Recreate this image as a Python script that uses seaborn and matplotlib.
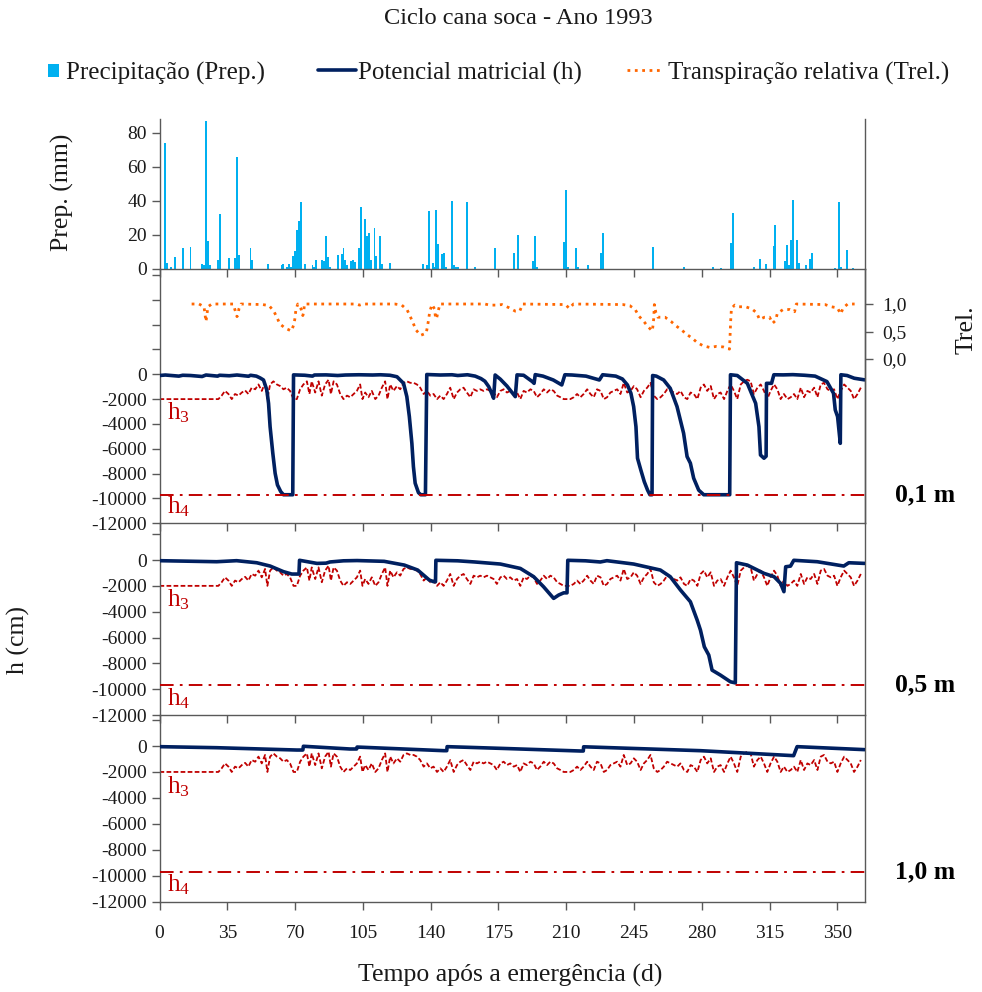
import matplotlib
matplotlib.use("Agg")
import matplotlib.pyplot as plt
import seaborn as sns

sns.set_theme(style="white")
plt.rcParams["font.family"] = ["Liberation Serif", "DejaVu Serif"]
plt.rcParams["mathtext.fontset"] = "custom"
plt.rcParams["mathtext.rm"] = "Liberation Serif"
plt.rcParams["mathtext.it"] = "Liberation Serif:italic"
plt.rcParams["axes.unicode_minus"] = False

# ---------------- data ----------------
# daily rainfall (mm), days after emergence
rain_day = [3, 4, 6, 8, 12, 16, 22, 23, 24, 25, 26, 30, 31, 36, 39, 40, 41, 47, 48, 56,
            63, 64, 66, 67, 68, 69, 70, 71, 72, 73, 75, 79, 80, 81, 84, 85, 86, 87, 88, 92,
            94, 95, 96, 97, 99, 100, 101, 103, 104, 106, 107, 108, 109, 111, 112, 114, 115, 119,
            136, 138, 139, 141, 142, 143, 144, 146, 147, 148, 151, 152, 153, 154, 159, 163, 173,
            183, 185, 193, 194, 195, 209, 210, 211, 215, 216, 221, 228, 229, 255, 271, 286, 290,
            295, 296, 307, 310, 313, 317, 318, 323, 324, 325, 326, 327, 329, 330, 334, 336, 337,
            349, 351, 352, 355, 358]
rain_mm = [74, 3.5, 1, 7, 12, 12.5, 3, 2, 87, 16.5, 2, 5.4, 32, 6.5, 6.5, 66, 8, 12, 5, 2.5,
           2, 3, 1, 3, 1, 7.3, 10.6, 23, 28, 39, 2.5, 2, 1, 5.4, 5, 4.5, 19, 7, 1, 8.3,
           8.5, 12, 5.4, 2, 4.5, 5.4, 4, 12, 36.6, 29, 19.4, 21, 5, 24, 7.6, 19.4, 3, 3.3,
           2.5, 2, 34, 3.3, 1, 34.6, 14.5, 8.7, 9, 1, 40, 2, 1, 1, 39, 1, 12,
           9, 20, 4.5, 19, 1, 16, 46.5, 1, 12, 1, 2, 9, 21, 12.5, 1, 1, 0.5,
           15, 33, 1, 6, 3, 13.5, 26, 4.5, 14, 2, 17, 40.6, 17, 3.5, 2, 5.5, 9.4,
           0.5, 39, 1, 11.3, 0.5]

# relative transpiration (-)
trel_day = [16.6, 20.4, 23.0, 23.5, 24.0, 24.5, 25.0, 27.0, 38.0, 39.0, 40.0, 40.5, 41.0, 42.1,
            53.3, 56.6, 59.0, 60.6, 62.1, 64.9, 68.1, 69.5, 70.0, 70.4, 71.4, 73.1, 74.0, 74.5,
            74.8, 101.5, 103.3, 105.0, 121.5, 125.1, 127.9, 129.5, 131.0, 132.4, 134.8, 137.7,
            138.4, 139.0, 139.5, 140.7, 142.0, 142.4, 143.0, 143.8, 144.8, 168.0, 170.5, 173.7,
            176.8, 180.6, 183.7, 186.0, 187.5, 209.6, 211.6, 213.7, 239.2, 242.8, 245.6, 247.5,
            249.7, 251.9, 254.4, 254.9, 255.2, 255.5, 256.3, 257.3, 261.0, 264.2, 266.8, 269.5,
            272.1, 275.0, 277.6, 280.7, 284.2, 287.6, 291.0, 294.3, 294.6, 294.9, 295.3, 297.0,
            299.0, 302.6, 305.9, 308.3, 309.8, 312.4, 315.0, 316.5, 318.1, 319.0, 322.0, 325.5,
            327.9, 328.8, 343.6, 346.9, 350.0, 351.7, 353.0, 355.3, 358.9]
trel_val = [1.0, 1.0, 0.95, 0.81, 0.68, 0.81, 0.95, 1.0, 1.0, 0.89, 0.77, 0.80, 0.91, 1.0,
            0.99, 0.97, 0.87, 0.76, 0.64, 0.56, 0.51, 0.64, 0.76, 0.89, 1.0, 0.91, 0.79, 0.86,
            1.0, 1.0, 0.98, 1.0, 1.0, 0.98, 0.89, 0.77, 0.65, 0.53, 0.43, 0.47,
            0.60, 0.73, 0.86, 0.99, 0.91, 0.79, 0.73, 0.86, 1.0, 1.0, 0.98, 0.98,
            0.99, 0.93, 0.87, 0.87, 1.0, 0.99, 0.92, 1.0, 0.99, 0.97, 0.90, 0.78,
            0.70, 0.60, 0.51, 0.63, 0.75, 0.99, 0.84, 0.76, 0.76, 0.68, 0.60, 0.53,
            0.45, 0.38, 0.30, 0.24, 0.21, 0.23, 0.22, 0.18, 0.43, 0.69, 0.92, 0.98,
            0.95, 0.95, 0.91, 0.84, 0.72, 0.76, 0.76, 0.65, 0.70, 0.83, 0.90, 0.90,
            0.86, 1.0, 0.99, 0.95, 0.93, 0.82, 0.93, 1.0, 1.0]

# pressure head limits of the water uptake reduction function (cm)
h3_day = [0, 30.4, 32.1, 33.8, 35.6, 37.3, 39.0, 40.8, 42.5, 44.2, 45.9, 47.6, 49.4, 51.1, 52.8,
          54.5, 55.7, 57.1, 58.8, 60.6, 62.3, 64.0, 65.7, 67.4, 69.2, 70.9, 72.6, 74.3, 76.1,
          77.4, 78.6, 80.4, 82.1, 83.8, 85.5, 87.3, 88.5, 89.9, 91.6, 93.3, 95.0, 96.8, 98.5,
          100.2, 101.9, 103.6, 104.8, 106.2, 107.9, 109.6, 111.4, 113.1, 114.8, 116.5, 117.7,
          119.1, 120.8, 122.6, 124.3, 126.0, 127.7, 129.5, 131.2, 132.9, 134.6, 136.4, 138.1,
          139.8, 141.5, 143.3, 145.0, 146.7, 148.4, 150.1, 151.9, 153.6, 155.3, 157.0, 158.7,
          160.5, 162.2, 163.9, 165.6, 167.3, 169.1, 170.8, 172.5, 174.2, 176.0, 177.7, 179.4,
          181.1, 182.9, 184.6, 186.3, 188.0, 189.7, 191.5, 193.2, 194.9, 196.6, 198.4, 200.1,
          201.8, 203.5, 205.3, 207.0, 208.7, 210.4, 212.1, 213.9, 215.6, 217.3, 219.0, 220.8,
          222.5, 224.2, 225.9, 227.7, 229.4, 231.1, 232.8, 234.6, 236.3, 238.0, 239.7, 241.5,
          243.2, 244.9, 246.6, 248.4, 250.1, 251.8, 253.5, 255.2, 257.0, 258.7, 260.4, 262.1,
          263.9, 265.6, 267.3, 269.0, 270.8, 272.5, 274.2, 275.9, 277.7, 279.4, 281.1, 282.8,
          284.6, 286.3, 288.0, 289.7, 291.5, 293.2, 294.9, 296.6, 298.3, 300.1, 301.8, 303.5,
          305.2, 306.9, 308.7, 310.4, 312.1, 313.8, 315.5, 317.3, 319.0, 320.7, 322.4, 324.2,
          325.9, 327.6, 329.3, 331.1, 332.8, 334.5, 336.2, 338.0, 339.7, 341.4, 343.1, 344.9,
          346.6, 348.3, 350.0, 351.7, 353.5, 355.2, 356.9, 358.6, 360.4, 362.1]
h3_val = [-2000, -2000, -1720, -1340, -1590, -2000, -1590, -1720, -1470, -1300, -1590, -1080, -1210, -820, -1340,
          -690, -2000, -820, -570, -820, -950, -1210, -1080, -1340, -2000, -2000, -1210, -820, -570,
          -1590, -570, -1470, -570, -1720, -820, -440, -1590, -570, -820, -1590, -2000, -1720, -1850,
          -1590, -1340, -820, -2000, -1470, -1850, -1340, -2000, -1720, -1080, -570, -2000,
          -820, -1340, -950, -1210, -690, -570, -690, -690, -820, -1080, -1590, -1340,
          -1720, -1590, -2000, -1720, -2000, -1590, -1080, -2000, -1470, -1210, -1080, -1470,
          -1850, -1210, -1340, -1210, -1340, -1210, -1340, -1470, -1850, -1340, -1210, -1470,
          -1340, -1590, -1470, -2000, -1340, -1470, -1210, -1340, -1850, -1590, -1210, -1470,
          -1210, -1340, -1720, -1850, -2000, -2000, -2000, -1850, -1590, -1850, -1590, -1210,
          -1590, -1850, -1210, -1340, -2000, -1850, -1470, -1340, -1210, -1590, -690, -1470,
          -1340, -950, -1210, -1850, -1340, -1080, -690, -1720, -2000, -1850, -1590, -1210,
          -1340, -1470, -1590, -1340, -1850, -2000, -1470, -1590, -2000, -1080, -820, -1340,
          -950, -2000, -1590, -1470, -2000, -1340, -820, -1340, -2000, -820, -570, -440,
          -570, -1590, -1080, -820, -1340, -2000, -1340, -820, -1210, -2000, -1590, -2000,
          -1850, -1590, -2000, -1080, -1850, -1340, -1470, -1080, -1850, -820, -690, -1210,
          -1340, -1210, -2000, -1340, -820, -1080, -1340, -2000, -1590, -1080]
H4 = -9700

# matric potential (cm) at 0.1 m, 0.5 m and 1.0 m depth
h10_day = [0, 3, 10, 12, 16, 22, 24, 30, 31, 36, 40, 46, 47, 50, 52, 53.7, 55.4, 56.3, 57.1, 58.5,
           59.7, 60.9, 62.6, 64, 68.8, 69.2, 75, 79, 80, 86, 92, 96, 103, 110, 114, 119, 122.6,
           126, 127.7, 129, 130.3, 131.1, 132, 133.7, 134.9, 137.3, 138, 145, 151, 154, 159, 163,
           166, 168, 170, 171.5, 172.5, 173.3, 176, 179.4, 183.7, 184.6, 188, 192.5, 193.4, 194,
           198, 203.3, 207.7, 209.3, 213, 220.2, 227.1, 228.8, 235.6, 239, 241.6, 243.4, 244.8,
           246, 246.8, 248.5, 250.3, 252, 253.2, 254.3, 254.6, 256.5, 260.3, 263.7, 267.2, 270.6,
           272.4, 274.1, 275.8, 278.4, 281, 294.4, 294.8, 298.3, 303.5, 307.8, 309.5, 310.3,
           312.1, 313.2, 313.4, 316, 317.2, 322, 327, 333, 338.5, 344.6, 348, 348.9, 350.1,
           351.5, 351.8, 355, 358.7, 364]
h10_val = [-100, -60, -150, -80, -100, -180, -60, -150, -80, -120, -60, -160, -80, -150, -300, -460,
           -1260, -2340, -4220, -6360, -7970, -8910, -9450, -9700, -9700, -50, -80, -150, -60, -50,
           -100, -60, -40, -60, -40, -80, -200, -730, -1800, -3410, -5560, -7440, -8770, -9530,
           -9700, -9700, -20, -60, -40, -100, -40, -150, -350, -560, -1000, -1530, -1930, -60,
           -400, -950, -1800, -50, -80, -590, -730, -30, -150, -460, -860, -40, -60, -150, -460,
           -40, -150, -380, -860, -1530, -2600, -4220, -6760, -7700, -8650, -9330, -9700, -9700,
           -100, -150, -460, -1130, -2600, -4750, -6630, -7160, -8370, -9330, -9700, -9700, -40,
           -100, -730, -2340, -4220, -6500, -6760, -6600, -730, -730, -40, -50, -30, -80, -150,
           -590, -1530, -2870, -3410, -5560, -40, -100, -320, -450]

h50_day = [0, 29.5, 39.8, 50.2, 57.1, 64, 68.3, 72.0, 72.3, 81.3, 86, 88, 95, 102, 116, 126.4,
           133.3, 139.3, 141.6, 142.5, 142.7, 154, 162.8, 176, 186.3, 193.2, 198.3, 203.5, 206.1,
           208.7, 210.4, 210.8, 220, 227.6, 231, 244.8, 258.6, 263.7, 269, 274.1, 277.6, 279.3,
           281.3, 283.6, 285.3, 289.6, 294.8, 297.3, 297.9, 303.5, 312.1, 317.3, 320.7, 322.4,
           323.3, 325.8, 327.5, 339.6, 353.3, 355.9, 364]
h50_val = [-50, -130, -50, -210, -465, -900, -1085, -1085, -20, -260, -240, -150, -60, -40, -100,
           -390, -775, -1550, -1680, -1680, -20, -60, -150, -310, -650, -1290, -2070, -2970,
           -2710, -2540, -2540, -20, -60, -150, -50, -310, -775, -1290, -2325, -3230, -4650,
           -5425, -6720, -7360, -8525, -8910, -9430, -9510, -210, -390, -1030, -1290, -1810,
           -2450, -520, -470, -20, -130, -465, -210, -260]

h100_day = [0, 29.5, 70.9, 74.0, 74.3, 98.3, 101.8, 102.0, 146.8, 148.3, 148.5, 176, 217.3, 218.8,
            219.0, 279.3, 327.4, 329.2, 364]
h100_val = [-50, -130, -310, -310, -20, -230, -230, -80, -360, -360, -50, -180, -385, -385, -60,
            -360, -745, -50, -280]

x_ticks = [0, 35, 70, 105, 140, 175, 210, 245, 280, 315, 350]
prep_ticks = [0, 20, 40, 60, 80]
trel_ticks = [0.0, 0.5, 1.0]
trel_ticklabels = ["0,0", "0,5", "1,0"]
depth_labels = ["0,1 m", "0,5 m", "1,0 m"]

# ---------------- style ----------------
NAVY = "#002060"
RED = "#C00000"
ORANGE = "#FF6600"
BLUE = "#00B0F0"
SPINE = "#595959"
TXT = "#1a1a1a"
TICK_FS = 14
LAB_FS = 18.5

W_PX, H_PX = 982, 992
fig = plt.figure(figsize=(W_PX / 100, H_PX / 100), dpi=100)
L, W = 159.5 / W_PX, 705 / W_PX


def panel(top_px, bot_px):
    return fig.add_axes([L, 1 - bot_px / H_PX, W, (bot_px - top_px) / H_PX])


ax_p = panel(118.5, 268.7)
ax1 = panel(268.7, 523.3)
ax2 = panel(523.3, 715.0)
ax3 = panel(715.0, 901.7)

for ax in (ax_p, ax1, ax2, ax3):
    ax.set_facecolor("none")
    ax.grid(False)
    ax.set_xlim(0, 364)
    ax.set_xticks(x_ticks)
    for s in ("left", "right", "bottom"):
        ax.spines[s].set_visible(True)
        ax.spines[s].set_color(SPINE)
        ax.spines[s].set_linewidth(1.0)
    ax.spines["top"].set_visible(False)
    ax.tick_params(axis="both", which="major", direction="out", length=6, width=1,
                   color=SPINE, labelsize=TICK_FS, labelcolor=TXT, pad=3,
                   bottom=True, left=True, right=False, top=False)
    ax.tick_params(axis="x", labelbottom=False)
ax3.tick_params(axis="x", labelbottom=True, pad=11)

# precipitation
bars = ax_p.bar(rain_day, rain_mm, width=1.0, color=BLUE, linewidth=0,
                label="Precipitação (Prep.)")
ax_p.set_ylim(0, 88.4)
ax_p.set_yticks(prep_ticks)

# soil water pressure head panels
limits = [(ax1, 8500, h10_day, h10_val), (ax2, 2845, h50_day, h50_val),
          (ax3, 2390, h100_day, h100_val)]
h_line = None
for (ax, top, dd, vv), dlab in zip(limits, depth_labels):
    ax.set_ylim(-12000, top)
    ticks = list(range(-12000, int(top) + 1, 2000))
    ax.set_yticks(ticks)
    ax.set_yticklabels([str(t) if t <= 0 else "" for t in ticks])
    sns.lineplot(x=h3_day, y=h3_val, ax=ax, color=RED, linewidth=1.3,
                 linestyle=(0, (2.6, 1.3)), sort=False, estimator=None, zorder=2)
    sns.lineplot(x=dd, y=vv, ax=ax, color=NAVY, linewidth=2.6, sort=False,
                 estimator=None, zorder=3)
    h_line = ax.lines[-1]
    ax.axhline(H4, color=RED, linewidth=1.4, linestyle=(0, (7, 3.2, 1.4, 3.2)), zorder=4)
    ax.text(4, -3100, r"$\mathrm{h}_3$", color=RED, fontsize=18, ha="left", va="center")
    ax.text(4, -10700, r"$\mathrm{h}_4$", color=RED, fontsize=18, ha="left", va="center")
    ax.text(1.086, H4, dlab, transform=ax.get_yaxis_transform(), ha="center",
            va="center", fontsize=LAB_FS, fontweight="bold", color="black")
    ax.set_xlabel("")
    ax.set_ylabel("")

# relative transpiration on a secondary axis of the top soil panel
axt = ax1.twinx()
axt.set_facecolor("none")
axt.grid(False)
for s in ("left", "top", "bottom"):
    axt.spines[s].set_visible(False)
axt.spines["right"].set_color(SPINE)
axt.spines["right"].set_linewidth(1.0)
sns.lineplot(x=trel_day, y=trel_val, ax=axt, color=ORANGE, linewidth=2.0,
             linestyle=":", sort=False, estimator=None, zorder=3)
t_line = axt.lines[-1]
axt.set_ylim(-2.987, 1.642)
axt.set_yticks(trel_ticks)
axt.set_yticklabels(trel_ticklabels)
axt.tick_params(axis="y", direction="out", length=6, width=1, color=SPINE,
                labelsize=TICK_FS, labelcolor=TXT, pad=7, right=True, left=False)
axt.set_xlabel("")
axt.set_ylabel("")
ax1.set_xlim(0, 364)

# texts
fig.text(518 / W_PX, 1 - 18 / H_PX, "Ciclo cana soca - Ano 1993", ha="center", va="center",
         fontsize=17.6, color=TXT)
fig.text(62 / W_PX, 1 - 192 / H_PX, "Prep. (mm)", rotation=90, ha="center", va="center",
         fontsize=LAB_FS, color=TXT)
fig.text(18 / W_PX, 1 - 640 / H_PX, "h (cm)", rotation=90, ha="center", va="center",
         fontsize=LAB_FS, color=TXT)
fig.text(967 / W_PX, 1 - 330 / H_PX, "Trel.", rotation=90, ha="center", va="center",
         fontsize=LAB_FS, color=TXT)
fig.text(510 / W_PX, 1 - 975 / H_PX, "Tempo após a emergência (d)", ha="center",
         va="center", fontsize=LAB_FS, color=TXT)

# legend entries
leg_y = 1 - 73 / H_PX
common = dict(loc="center left", frameon=False, fontsize=18, borderpad=0,
              borderaxespad=0, labelcolor=TXT)
fig.legend(handles=[bars], labels=["Precipitação (Prep.)"], bbox_to_anchor=(48 / W_PX, leg_y),
           handlelength=0.45, handleheight=0.45, handletextpad=0.25, **common)
fig.legend(handles=[h_line], labels=["Potencial matricial (h)"],
           bbox_to_anchor=(318 / W_PX, leg_y), handlelength=1.5, handletextpad=0.1, **common)
fig.legend(handles=[t_line], labels=["Transpiração relativa (Trel.)"],
           bbox_to_anchor=(627 / W_PX, leg_y), handlelength=1.4, handletextpad=0.25, **common)

fig.savefig("out.png", dpi=100)
